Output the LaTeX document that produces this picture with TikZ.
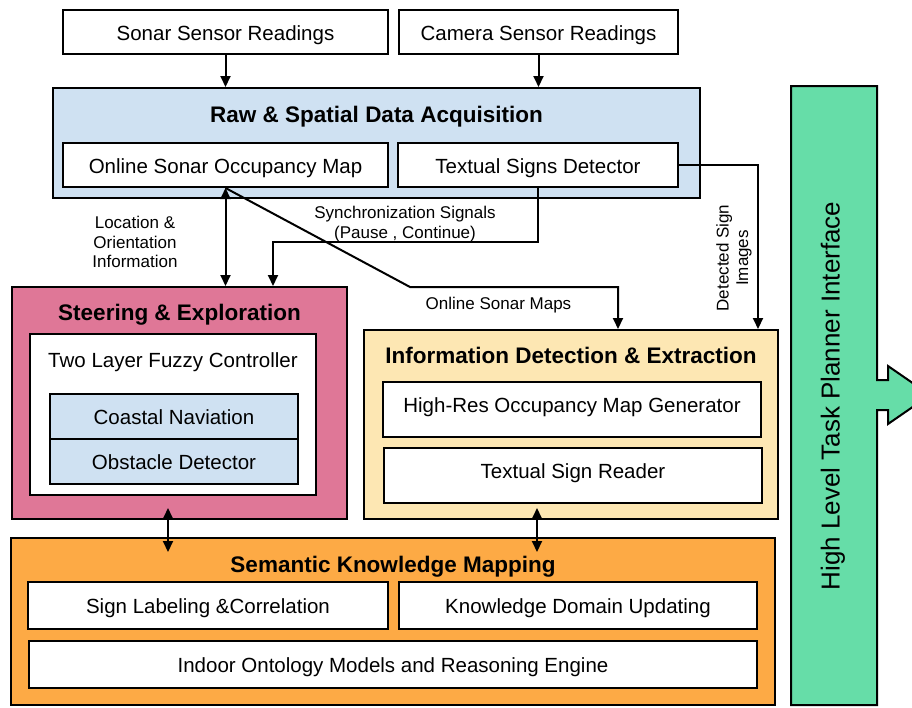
\documentclass[tikz,border=0pt]{standalone}
\usepackage{fontspec}
\setmainfont{Liberation Sans}
\usetikzlibrary{arrows.meta}

\definecolor{rawblue}{HTML}{CFE1F2}
\definecolor{steerpink}{HTML}{DF7797}
\definecolor{infocream}{HTML}{FDE7B3}
\definecolor{semorange}{HTML}{FDAA45}
\definecolor{plangreen}{HTML}{66DDA8}

\begin{document}
\begin{tikzpicture}[x=1pt,y=-1pt,
  blk/.style={draw=black, line width=2pt, inner sep=0pt},
  wbox/.style={blk, fill=white, font=\fontsize{20.5}{24}\selectfont, text height=16pt, text depth=0pt},
  plain/.style={font=\fontsize{20.5}{24}\selectfont, inner sep=0pt, text height=16pt, text depth=0pt},
  title/.style={font=\fontsize{22.5}{26}\bfseries\selectfont, inner sep=0pt, text height=16pt, text depth=0pt},
  lbl/.style={font=\fontsize{17}{19.5}\selectfont, align=center, inner sep=0pt},
  conn/.style={line width=2pt, -{Triangle[length=11pt,width=10pt]}},
  biconn/.style={line width=2pt, {Triangle[length=11pt,width=10pt]}-{Triangle[length=11pt,width=10pt]}}
]
\useasboundingbox (0,0) rectangle (912,707);

% sensor inputs
\node[wbox, minimum width=325pt, minimum height=44pt] (sonar) at (225.5,32) {Sonar Sensor Readings};
\node[wbox, minimum width=279pt, minimum height=44pt] (camera) at (538.5,32) {Camera Sensor Readings};

% raw and spatial data acquisition
\node[blk, fill=rawblue, minimum width=647pt, minimum height=110pt] (raw) at (376.5,143) {};
\node[title] (rawt) at (376.5,114) {Raw \& Spatial Data Acquisition};
\node[wbox, minimum width=325pt, minimum height=44pt] (osom) at (225.5,165) {Online Sonar Occupancy Map};
\node[wbox, minimum width=280pt, minimum height=44pt] (tsd) at (538,165) {Textual Signs Detector};

% steering and exploration
\node[blk, fill=steerpink, minimum width=335pt, minimum height=232pt] (steer) at (179.5,403) {};
\node[title] (steert) at (179.5,312.5) {Steering \& Exploration};
\node[wbox, minimum width=286pt, minimum height=161pt] (fuzzy) at (173,414.5) {};
\node[plain] (fuzzyt) at (173,359) {Two Layer Fuzzy Controller};
\node[wbox, fill=rawblue, minimum width=248pt, minimum height=45pt] (coast) at (174,416.5) {Coastal Naviation};
\node[wbox, fill=rawblue, minimum width=248pt, minimum height=45pt] (obst) at (174,461.5) {Obstacle Detector};

% information detection and extraction (text sits a little high in these boxes)
\node[blk, fill=infocream, minimum width=414pt, minimum height=189pt] (info) at (571,424.5) {};
\node[title] (infot) at (571,355) {Information Detection \& Extraction};
\node[wbox, text height=6pt, minimum width=378pt, minimum height=55pt] (hires) at (572,409.5) {High-Res Occupancy Map Generator};
\node[wbox, text height=6pt, minimum width=378pt, minimum height=55pt] (reader) at (573,475.5) {Textual Sign Reader};

% semantic knowledge mapping
\node[blk, fill=semorange, minimum width=764pt, minimum height=167pt] (sem) at (393,621.5) {};
\node[title] (semt) at (393,564.5) {Semantic Knowledge Mapping};
\node[wbox, minimum width=360pt, minimum height=47pt] (signlab) at (208,605.5) {Sign Labeling \&Correlation};
\node[wbox, minimum width=358pt, minimum height=47pt] (kdu) at (578,605.5) {Knowledge Domain Updating};
\node[wbox, minimum width=728pt, minimum height=47pt] (onto) at (393,664.5) {Indoor Ontology Models and Reasoning Engine};

% high level task planner interface bar with outgoing arrow
\draw[line width=2pt, fill=plangreen, line join=miter]
  (791,86) -- (877,86) -- (877,380) -- (888,380) -- (888,366) -- (930,395)
  -- (888,424) -- (888,410) -- (877,410) -- (877,705) -- (791,705) -- cycle;
\node[rotate=90, font=\fontsize{26}{30}\selectfont, inner sep=0pt] (planner) at (833,396) {High Level Task Planner Interface};

% connectors
\draw[conn] (sonar.south) -- (sonar.south |- raw.north);
\draw[conn] (camera.south) -- (camera.south |- raw.north);
\draw[biconn] (osom.south) -- (osom.south |- steer.north);

\coordinate (mapsbend) at (410,287);
\coordinate (mapsdrop) at (618,287);
\draw[conn, line join=miter] (osom.south) -- (mapsbend) -- (mapsdrop) -- (mapsdrop |- info.north);

\coordinate (synccorner) at (273,242);
\draw[conn, line join=miter] (tsd.south) |- (synccorner) -- (synccorner |- steer.north);

\coordinate (detx) at (758,165);
\draw[conn, line join=miter] (tsd.east) -- (detx) -- (detx |- info.north);

\coordinate (lsTop) at (168,508);
\coordinate (lsBot) at (168,552);
\draw[biconn] (lsTop) -- (lsBot);
\coordinate (rsTop) at (537,508);
\coordinate (rsBot) at (537,552);
\draw[biconn] (rsTop) -- (rsBot);

% connector labels
\node[lbl] (loclbl) at (135,242) {Location \&\\Orientation\\Information};
\node[lbl] (synclbl) at (405,224) {Synchronization Signals\\(Pause , Continue)};
\node[lbl] (mapslbl) at (498.5,305) {Online Sonar Maps};
\node[lbl, rotate=90] (detlbl) at (734,258) {Detected Sign\\Images};
\end{tikzpicture}
\end{document}
